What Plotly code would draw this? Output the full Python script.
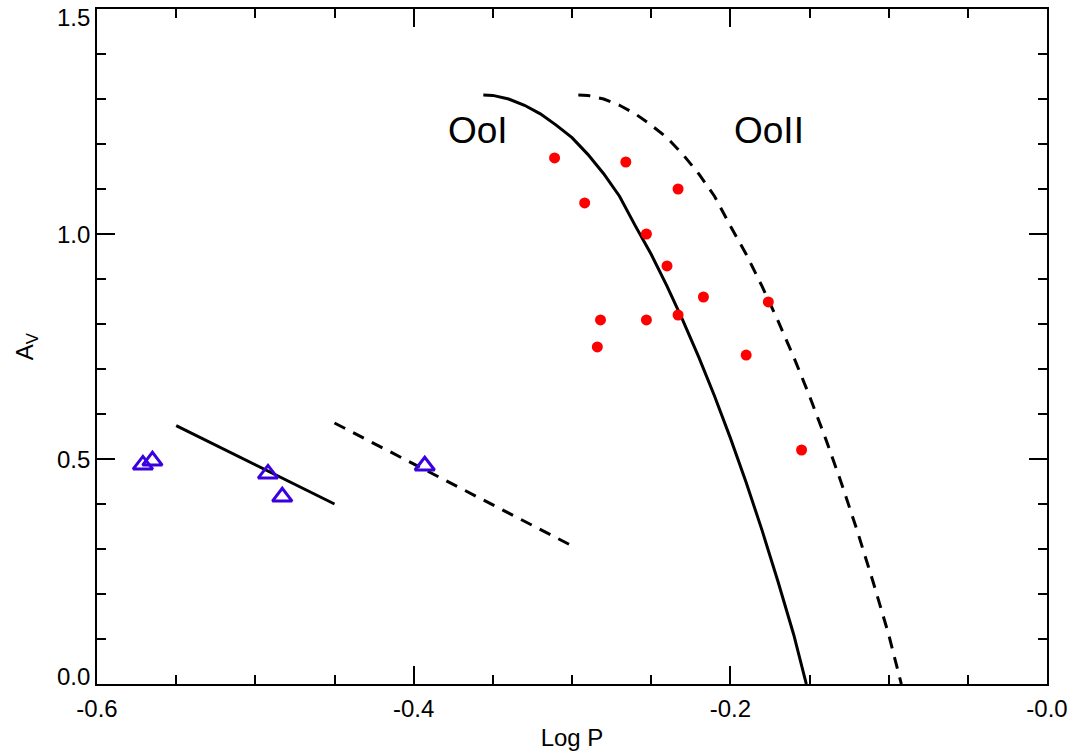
import plotly.graph_objects as go

# RR Lyrae ab-type stars (red filled circles)
rrab_logp = [-0.311, -0.266, -0.292, -0.233, -0.253, -0.240, -0.217, -0.176,
             -0.282, -0.253, -0.233, -0.284, -0.190, -0.155]
rrab_av = [1.169, 1.160, 1.069, 1.100, 1.000, 0.929, 0.860, 0.849,
           0.809, 0.809, 0.820, 0.749, 0.731, 0.520]

# RR Lyrae c-type stars (blue open triangles)
rrc_logp = [-0.571, -0.565, -0.492, -0.483, -0.393]
rrc_av = [0.487, 0.496, 0.467, 0.416, 0.485]

# Oosterhoff I locus (solid curve)
ooi_logp = [-0.356, -0.35, -0.34, -0.33, -0.32, -0.31, -0.30, -0.29, -0.28,
            -0.27, -0.26, -0.25, -0.24, -0.23, -0.22, -0.21, -0.20, -0.19,
            -0.18, -0.17, -0.16, -0.152]
ooi_av = [1.309, 1.308, 1.300, 1.286, 1.267, 1.242, 1.214, 1.177, 1.134,
          1.084, 1.018, 0.955, 0.884, 0.808, 0.727, 0.640, 0.547, 0.448,
          0.342, 0.229, 0.110, 0.0]

# Oosterhoff II locus (dashed curve)
ooii_logp = [-0.296, -0.29, -0.28, -0.27, -0.26, -0.25, -0.24, -0.23, -0.22,
             -0.21, -0.20, -0.19, -0.18, -0.17, -0.16, -0.15, -0.14, -0.13,
             -0.12, -0.11, -0.10, -0.092]
ooii_av = [1.309, 1.308, 1.300, 1.286, 1.267, 1.242, 1.214, 1.177, 1.134,
           1.084, 1.018, 0.955, 0.884, 0.808, 0.727, 0.640, 0.547, 0.448,
           0.342, 0.229, 0.110, 0.0]

# RRc lines
rrc_ooi_logp = [-0.55, -0.45]
rrc_ooi_av = [0.574, 0.400]
rrc_ooii_logp = [-0.45, -0.30]
rrc_ooii_av = [0.580, 0.307]

x_ticks = [-0.6, -0.4, -0.2, 0.0]
x_ticktext = ["-0.6", "-0.4", "-0.2", "-0.0"]
y_ticks = [0.0, 0.5, 1.0, 1.5]
y_ticktext = ["0.0", "0.5", "1.0", "1.5"]
# edge labels are drawn nudged inwards (as in the reference)
y_edge_shift = [8, 0, 0, -8]

font_family = "Liberation Sans, Arial, sans-serif"

fig = go.Figure()

fig.add_trace(go.Scatter(x=ooi_logp, y=ooi_av, mode="lines",
                         line=dict(color="black", width=3),
                         showlegend=False))
fig.add_trace(go.Scatter(x=ooii_logp, y=ooii_av, mode="lines",
                         line=dict(color="black", width=3, dash="12px,9px"),
                         showlegend=False))
fig.add_trace(go.Scatter(x=rrc_ooi_logp, y=rrc_ooi_av, mode="lines",
                         line=dict(color="black", width=3),
                         showlegend=False))
fig.add_trace(go.Scatter(x=rrc_ooii_logp, y=rrc_ooii_av, mode="lines",
                         line=dict(color="black", width=3, dash="12px,9px"),
                         showlegend=False))
fig.add_trace(go.Scatter(x=rrab_logp, y=rrab_av, mode="markers",
                         marker=dict(symbol="circle", size=11, color="#ff0000",
                                     line=dict(width=0)),
                         showlegend=False))
fig.add_trace(go.Scatter(x=rrc_logp, y=rrc_av, mode="markers",
                         marker=dict(symbol="triangle-up-open", size=17, color="#3a00e0",
                                     line=dict(width=3, color="#3a00e0")),
                         showlegend=False))

fig.add_annotation(x=-0.3594, y=1.229, text="OoI", showarrow=False,
                   font=dict(size=37, color="black", family=font_family))
fig.add_annotation(x=-0.1756, y=1.229, text="OoII", showarrow=False,
                   font=dict(size=37, color="black", family=font_family))

# y tick labels placed next to the axis ticks
for val, txt, sh in zip(y_ticks, y_ticktext, y_edge_shift):
    fig.add_annotation(xref="paper", x=0, y=val, yref="y", text=txt, showarrow=False,
                       xanchor="right", yanchor="middle", xshift=-5, yshift=sh,
                       font=dict(size=24, color="black", family=font_family))

axis_common = dict(
    showgrid=False, zeroline=False, showline=True, linecolor="black", linewidth=2,
    mirror="ticks", ticks="inside", tickcolor="black", tickwidth=2, ticklen=18,
    tickfont=dict(size=24, color="black", family=font_family),
    ticklabeloverflow="allow", automargin=False,
)

fig.update_xaxes(range=[-0.6, 0.0], tickvals=x_ticks, ticktext=x_ticktext,
                 minor=dict(dtick=0.05, tick0=0, ticks="inside", ticklen=9,
                            tickwidth=2, tickcolor="black"),
                 ticklabelstandoff=2,
                 title=dict(text="Log P", font=dict(size=24, color="black", family=font_family),
                            standoff=8),
                 **axis_common)
fig.update_yaxes(range=[0.0, 1.5], tickvals=y_ticks, showticklabels=False,
                 minor=dict(dtick=0.1, tick0=0, ticks="inside", ticklen=9,
                            tickwidth=2, tickcolor="black"),
                 **axis_common)

# y-axis title
fig.add_annotation(xref="paper", yref="paper", x=-0.074, y=0.5, text="A<sub>V</sub>",
                   showarrow=False, textangle=-90, xanchor="center", yanchor="middle",
                   font=dict(size=24, color="black", family=font_family))

fig.update_layout(width=1078, height=756, plot_bgcolor="white", paper_bgcolor="white",
                  margin=dict(l=97, r=31, t=9, b=72), showlegend=False)

fig.write_html("out.html")
